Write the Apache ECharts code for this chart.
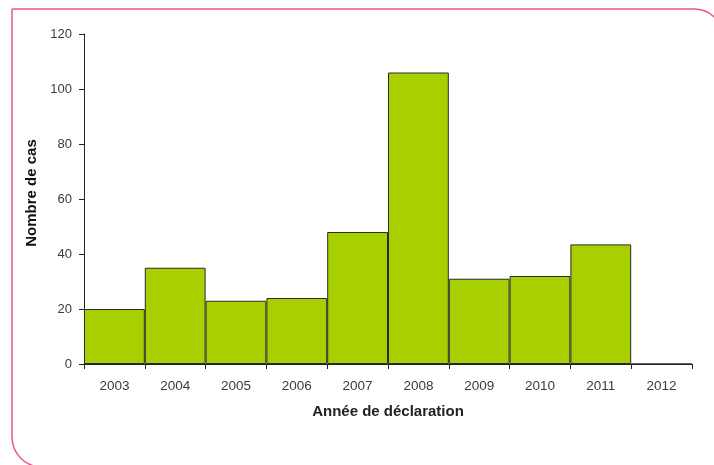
<!DOCTYPE html>
<html>
<head>
<meta charset="utf-8">
<script src="https://cdn.jsdelivr.net/npm/echarts@6/dist/echarts.min.js"></script>
<style>
html,body{margin:0;padding:0;background:#fff;}
#c{width:714px;height:465px;}
</style>
</head>
<body>
<div id="c"></div>
<script>
const categories = ['2003','2004','2005','2006','2007','2008','2009','2010','2011','2012'];
const cases = [20, 35, 23, 24, 48, 106, 31, 32, 43.5, 0];
const yTicks = [0, 20, 40, 60, 80, 100, 120];

const chart = echarts.init(document.getElementById('c'));
chart.setOption({
  animation: false,
  backgroundColor: '#fff',
  graphic: [{
    type: 'rect',
    shape: { x: 12, y: 9, width: 712, height: 458, r: [0, 30, 0, 30] },
    style: { fill: 'none', stroke: '#ec5196', lineWidth: 1.5 },
    z: -1
  }],
  grid: { left: 84, right: 22, top: 34, bottom: 101 },
  xAxis: {
    type: 'category',
    data: categories,
    axisLine: { lineStyle: { color: '#222', width: 1 } },
    axisTick: { show: true, alignWithLabel: false, length: 5, lineStyle: { color: '#222' } },
    axisLabel: { color: '#3a3a48', fontFamily: 'Liberation Sans, Arial, sans-serif', fontSize: 13.5, margin: 15 },
    name: 'Année de déclaration',
    nameLocation: 'middle',
    nameGap: 40,
    nameTextStyle: { color: '#222', fontWeight: 'bold', fontSize: 15, fontFamily: 'Liberation Sans, Arial, sans-serif' }
  },
  yAxis: {
    type: 'value',
    min: yTicks[0],
    max: yTicks[yTicks.length - 1],
    interval: 20,
    splitLine: { show: false },
    axisLine: { show: true, lineStyle: { color: '#222', width: 1 } },
    axisTick: { show: true, length: 5, lineStyle: { color: '#222' } },
    axisLabel: { color: '#3a3a48', fontFamily: 'Liberation Sans, Arial, sans-serif', fontSize: 13, margin: 12 },
    name: 'Nombre de cas',
    nameLocation: 'middle',
    nameGap: 44,
    nameRotate: 90,
    nameTextStyle: { color: '#111', fontWeight: 'bold', fontSize: 15, fontFamily: 'Liberation Sans, Arial, sans-serif', padding: [0, 0, 0, 12] }
  },
  series: [{
    type: 'bar',
    data: cases,
    barCategoryGap: 0,
    itemStyle: { color: '#a8d000', borderColor: '#2a2a2a', borderWidth: 1 }
  }]
});
</script>
</body>
</html>
